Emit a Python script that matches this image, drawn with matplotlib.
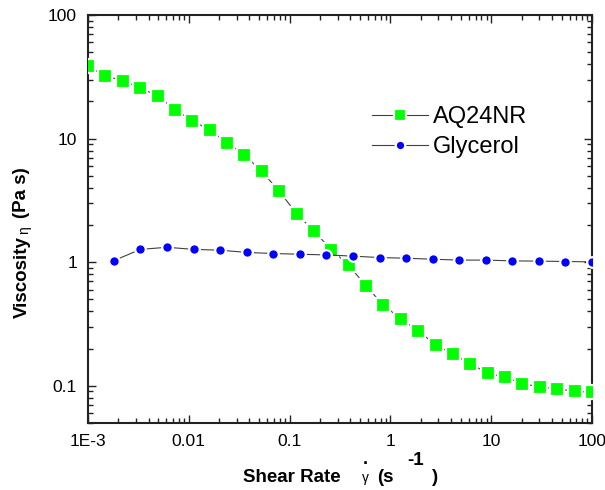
import matplotlib
matplotlib.use("Agg")
import matplotlib.pyplot as plt
from matplotlib.ticker import LogLocator, FixedFormatter, FixedLocator, NullFormatter

plt.rcParams['font.family'] = ['Liberation Sans', 'DejaVu Sans']

# Shear rate (1/s) and viscosity (Pa s)
aq_rate = [0.001, 0.001487, 0.002212, 0.003290, 0.004894, 0.007279, 0.01083,
           0.01610, 0.02395, 0.03562, 0.05298, 0.07880, 0.1172, 0.1743,
           0.2593, 0.3857, 0.5737, 0.8533, 1.269, 1.888, 2.807, 4.176,
           6.211, 9.237, 13.74, 20.43, 30.39, 45.21, 67.24, 100.0]
aq_visc = [38.6, 32.0, 29.5, 25.6, 22.3, 17.1, 14.0, 11.7, 9.29, 7.39,
           5.42, 3.76, 2.47, 1.79, 1.26, 0.946, 0.640, 0.450, 0.347, 0.279,
           0.214, 0.181, 0.150, 0.127, 0.117, 0.104, 0.098, 0.0946, 0.090, 0.089]

gly_rate = [0.001807, 0.003315, 0.006081, 0.01115, 0.02046, 0.03753, 0.06887,
            0.1263, 0.2317, 0.4250, 0.7798, 1.431, 2.624, 4.815, 8.831,
            16.20, 29.72, 54.52, 100.0]
gly_visc = [1.03, 1.27, 1.32, 1.27, 1.25, 1.20, 1.175, 1.16, 1.145, 1.12,
            1.09, 1.077, 1.057, 1.04, 1.04, 1.025, 1.02, 1.013, 1.006]

series_names = ["AQ24NR", "Glycerol"]
x_ticks = [1e-3, 1e-2, 1e-1, 1, 10, 100]
x_tick_labels = ["1E-3", "0.01", "0.1", "1", "10", "100"]
y_ticks = [0.1, 1, 10, 100]
y_tick_labels = ["0.1", "1", "10", "100"]

W, H = 605, 490
fig = plt.figure(figsize=(W / 100, H / 100), dpi=100)
L, R, T, B = 88, 592, 15, 423
ax = fig.add_axes([L / W, 1 - B / H, (R - L) / W, (B - T) / H])

line_kw = dict(color="#404040", lw=0.8, markeredgecolor="white", markeredgewidth=1.6)
ax.plot(aq_rate, aq_visc, marker="s", markersize=9.5, markerfacecolor="#00FF00",
        label=series_names[0], zorder=3, **line_kw)
ax.plot(gly_rate, gly_visc, marker="o", markersize=7.6, markerfacecolor="#0000FF",
        label=series_names[1], zorder=4, **line_kw)

ax.set_xscale("log")
ax.set_yscale("log")
ax.set_xlim(1e-3, 100)
ax.set_ylim(0.05, 100)

ax.xaxis.set_major_locator(FixedLocator(x_ticks))
ax.xaxis.set_major_formatter(FixedFormatter(x_tick_labels))
ax.yaxis.set_major_locator(FixedLocator(y_ticks))
ax.yaxis.set_major_formatter(FixedFormatter(y_tick_labels))
for a in (ax.xaxis, ax.yaxis):
    a.set_minor_locator(LogLocator(base=10, subs=range(2, 10), numticks=20))
    a.set_minor_formatter(NullFormatter())

for s in ax.spines.values():
    s.set_linewidth(1.5)
    s.set_color("#222222")
ax.tick_params(which="both", direction="in", top=True, right=True,
               color="#222222", width=1.0, labelsize=12.5, labelcolor="black")
ax.tick_params(which="major", length=6)
ax.tick_params(which="minor", length=3.5)
ax.tick_params(axis="x", which="major", pad=8)
ax.tick_params(axis="y", which="major", pad=8)

ax.legend(loc="upper left", bbox_to_anchor=(0.563, 0.777), frameon=False,
          fontsize=17, markerscale=0.9, handlelength=2.4, handletextpad=0.2,
          labelspacing=0.35, borderpad=0, borderaxespad=0)

def px(x, y):
    return x / W, 1 - y / H

# x-axis label: Shear Rate  γ̇  (s^-1)
fig.text(*px(243, 482), "Shear Rate", fontsize=13.5, fontweight="bold",
         ha="left", va="baseline")
fig.text(*px(365, 482), "γ", fontsize=10, ha="center", va="baseline")
fig.text(*px(365, 464), ".", fontsize=13, fontweight="bold", ha="center", va="baseline")
fig.text(*px(377, 482), "(s", fontsize=13.5, fontweight="bold", ha="left", va="baseline")
fig.text(*px(407, 465), "-1", fontsize=13.5, fontweight="bold", ha="left", va="baseline")
fig.text(*px(432, 482), ")", fontsize=13.5, fontweight="bold", ha="left", va="baseline")

# y-axis label: Viscosity η (Pa s)
fig.text(*px(22, 277), "Viscosity", fontsize=13.5, fontweight="bold", rotation=90,
         ha="center", va="center")
fig.text(*px(24, 230), "η", fontsize=10, rotation=90, ha="center", va="center")
fig.text(*px(22, 193), "(Pa s)", fontsize=13.5, fontweight="bold", rotation=90,
         ha="center", va="center")

fig.savefig("out.png", dpi=100)
